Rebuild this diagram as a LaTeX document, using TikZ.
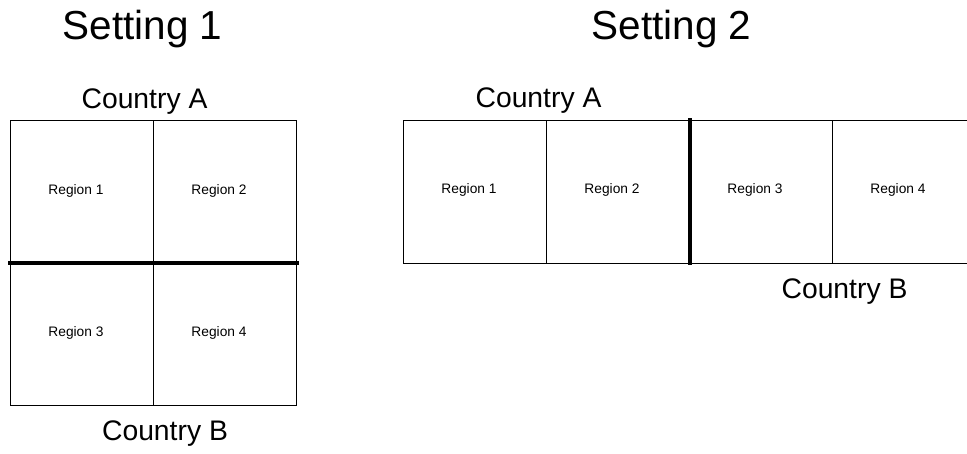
\documentclass[tikz,border=0pt]{standalone}
\usepackage{fontspec}
\setmainfont{Liberation Sans}
\tikzset{
  cell/.style={draw,line width=1pt,minimum width=143pt,minimum height=142.5pt,inner sep=0pt,outer sep=0pt},
  region/.style={font=\fontsize{13.75}{16}\selectfont,anchor=base,inner sep=0pt},
  country/.style={font=\fontsize{28.3}{33}\selectfont,anchor=base,inner sep=0pt},
  setting/.style={font=\fontsize{40.5}{48}\selectfont,anchor=base,inner sep=0pt},
  border/.style={line width=4pt},
}
\begin{document}
\begin{tikzpicture}[x=1pt,y=-1pt]
    \useasboundingbox (0,0) rectangle (967,453);
    \clip (0,0) rectangle (967,453);
    %% titles
    \node[setting] (t1) at (142.5,39) {Setting 1};
    \node[setting] (t2) at (671.5,39) {Setting 2};
    %% Setting 1: 2x2 grid
    \node[cell,anchor=north west] (s1r1) at (10.5,120.5) {};
    \node[cell,anchor=west] (s1r2) at (s1r1.east) {};
    \node[cell,anchor=north] (s1r3) at (s1r1.south) {};
    \node[cell,anchor=north] (s1r4) at (s1r2.south) {};
    \node[region] at ([shift={(-6,2.5)}]s1r1.center) {Region 1};
    \node[region] at ([shift={(-6,2.5)}]s1r2.center) {Region 2};
    \node[region] at ([shift={(-6,2.5)}]s1r3.center) {Region 3};
    \node[region] at ([shift={(-6,2.5)}]s1r4.center) {Region 4};
    \draw[border] ([xshift=-2.5pt]s1r3.north west) -- ([xshift=2.5pt]s1r4.north east);
    \node[country] (s1a) at (144.5,108) {Country A};
    \node[country] (s1b) at (165,440) {Country B};
    %% Setting 2: 1x4 row
    \node[cell,anchor=north west] (s2r1) at (403.5,120.5) {};
    \node[cell,anchor=west] (s2r2) at (s2r1.east) {};
    \node[cell,anchor=west] (s2r3) at (s2r2.east) {};
    \node[cell,anchor=west] (s2r4) at (s2r3.east) {};
    \node[region] at ([shift={(-6,1.5)}]s2r1.center) {Region 1};
    \node[region] at ([shift={(-6,1.5)}]s2r2.center) {Region 2};
    \node[region] at ([shift={(-6,1.5)}]s2r3.center) {Region 3};
    \node[region] at ([shift={(-6,1.5)}]s2r4.center) {Region 4};
    \draw[border] ([yshift=2.5pt]s2r3.north west) -- ([yshift=-2pt]s2r3.south west);
    \node[country] (s2a) at (538.5,107) {Country A};
    \node[country] (s2b) at (844.5,298) {Country B};
\end{tikzpicture}
\end{document}
